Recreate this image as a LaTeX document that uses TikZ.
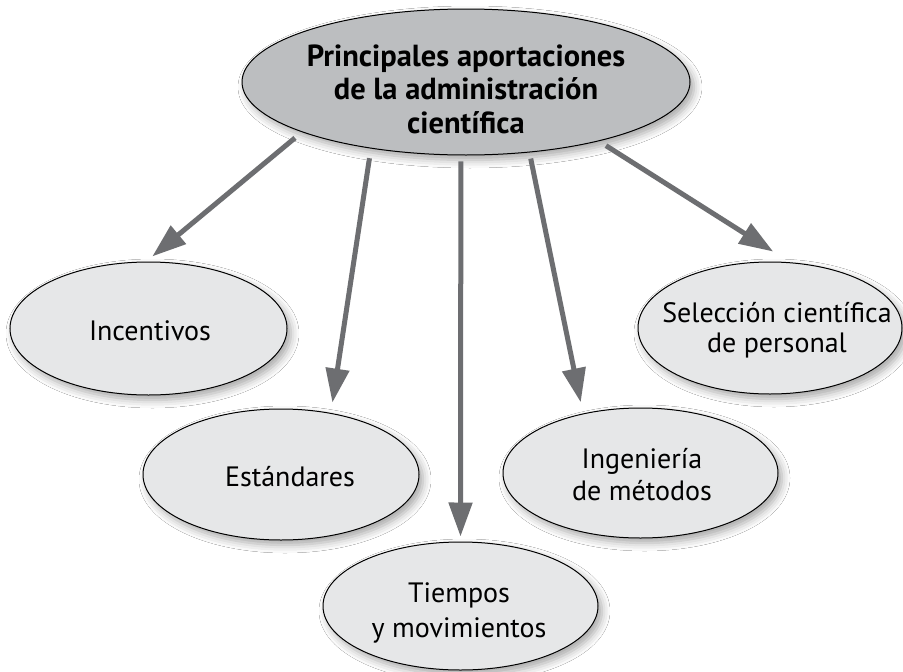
\documentclass[tikz,border=0pt]{standalone}
\usepackage{fontspec}
\setmainfont{PT Sans}
\usetikzlibrary{arrows.meta,shapes.geometric,shadows.blur}
\definecolor{arrowgray}{HTML}{6D6E71}
\definecolor{topfill}{HTML}{BCBEC0}
\definecolor{subfill}{HTML}{E6E7E8}
\begin{document}
\begin{tikzpicture}[x=1pt,y=-1pt,
  ellbase/.style={ellipse, draw=black, line width=1pt, inner sep=0pt,
    blur shadow={shadow xshift=4pt, shadow yshift=-5pt, shadow blur radius=8pt, shadow opacity=35}},
  topell/.style={ellbase, fill=topfill, minimum width=448pt, minimum height=146pt},
  subell/.style={ellbase, fill=subfill},
  lbl/.style={font=\fontsize{28}{33}\selectfont, align=center, inner sep=0pt, anchor=base},
  toplbl/.style={lbl, font=\fontsize{30.5}{33.5}\selectfont\bfseries},
  conn/.style={draw=arrowgray, line width=5pt, -{Triangle[length=34pt,width=23pt]}}
]
\fill[white] (0,0) rectangle (903,672);
\useasboundingbox (0,0) rectangle (903,672);

\node[topell] (top) at (466,82) {};
\node[subell, minimum width=277pt, minimum height=133pt] (inc) at (148.5,328.5) {};
\node[subell, minimum width=264pt, minimum height=132pt] (sel) at (770,328) {};
\node[subell, minimum width=276pt, minimum height=131pt] (est) at (281,474.5) {};
\node[subell, minimum width=275pt, minimum height=130pt] (ing) at (640.5,473) {};
\node[subell, minimum width=275pt, minimum height=128pt] (tie) at (460.5,606) {};

\node[toplbl] (topt) at (466,133) {Principales aportaciones\\de la administración\\científica};
\node[lbl] (inct) at (150,340) {Incentivos};
\node[lbl] (estt) at (290,486) {Estándares};
\node[lbl] (tiet) at (459,637) {Tiempos\\[2pt]y movimientos};
\node[lbl] (ingt) at (642,500) {Ingeniería\\[-1pt]de métodos};
\node[lbl] (selt) at (777,352) {Selección científica\\[-3pt]de personal};

\draw[conn, shorten <=9pt, shorten >=8pt] (top.197.1) -- (inc.92.3);
\draw[conn, shorten <=9.7pt, shorten >=10.5pt] (top.215.7) -- (est.51.1);
\draw[conn, shorten <=6pt, shorten >=5pt] (top.266.9) -- (tie.north);
\draw[conn, shorten <=6.2pt, shorten >=11.4pt] (top.312.8) -- (ing.134.8);
\draw[conn, shorten <=8.3pt, shorten >=20pt] (top.336.4) -- (sel.73.2);
\end{tikzpicture}
\end{document}
